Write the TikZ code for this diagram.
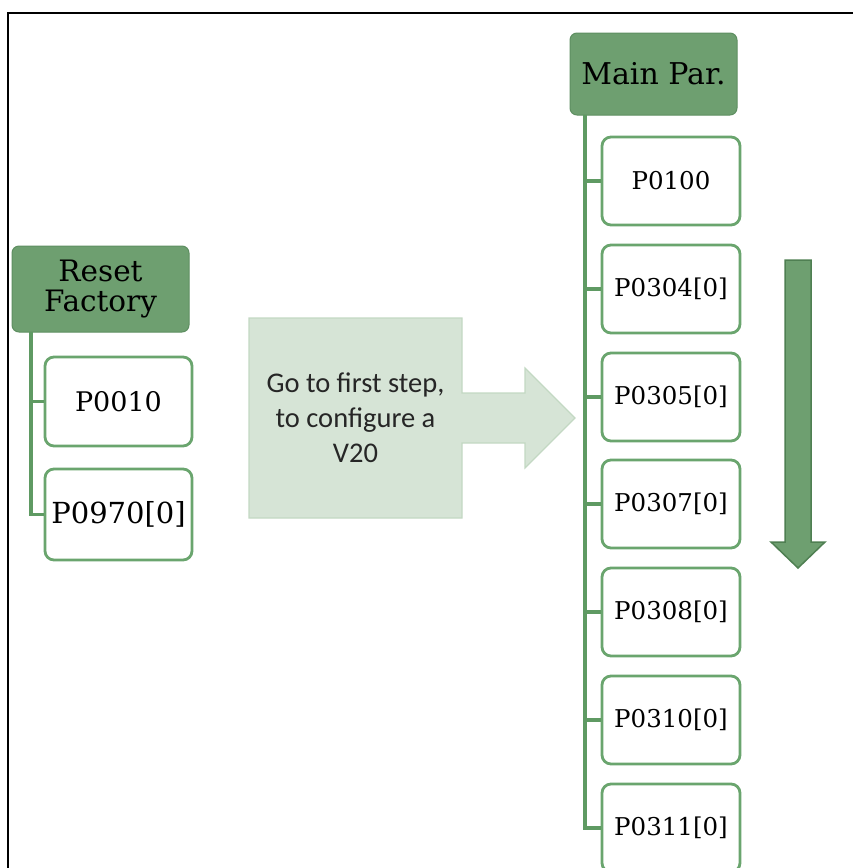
\documentclass[tikz,border=0pt]{standalone}
\usepackage{fontspec}
\setmainfont{DejaVu Serif}
\newfontfamily\calloutfont{Carlito}
\definecolor{hdrfill}{HTML}{6E9F70}
\definecolor{hdrline}{HTML}{5E8F61}
\definecolor{boxline}{HTML}{6AA56E}
\definecolor{connline}{HTML}{5F9A63}
\definecolor{callfill}{HTML}{D6E4D6}
\definecolor{callline}{HTML}{C3D8C3}
\definecolor{darrfill}{HTML}{6E9F70}
\definecolor{darrline}{HTML}{4F7F52}
\tikzset{
  hdr/.style={draw=hdrline, fill=hdrfill, line width=1pt, rounded corners=7pt, align=center, inner sep=0pt},
  pbox/.style={draw=boxline, fill=white, line width=2.8pt, rounded corners=9pt, align=center, inner sep=0pt},
  conn/.style={draw=connline, line width=3.2pt},
  frame/.style={draw=black, line width=2.2pt},
}
\begin{document}
\begin{tikzpicture}[x=1pt,y=-1pt]
\useasboundingbox (0,0) rectangle (853,868);
\begin{scope}
\clip (0,0) rectangle (853,868);
% frame
\draw[frame] (8,868) -- (8,13) -- (853,13);

% left group
\node[hdr, minimum width=177pt, minimum height=86pt, font=\fontsize{29.5}{30}\selectfont] (rf) at (100.5,289) {Reset\\Factory};
\node[pbox, minimum width=147pt, minimum height=89pt, font=\fontsize{27}{30}\selectfont] (p0010) at (118.5,401.5) {P0010};
\node[pbox, minimum width=147pt, minimum height=91pt, font=\fontsize{29}{30}\selectfont] (p0970) at (118.5,514.5) {P0970[0]};
\coordinate (lt) at (31,332);
\draw[conn] (lt) |- (p0970.west);
\draw[conn] (lt |- p0010.west) -- (p0010.west);

% callout arrow
\coordinate (c1) at (249,318);
\coordinate (c2) at (462,318);
\coordinate (c3) at (462,393);
\coordinate (c4) at (525,393);
\coordinate (c5) at (525,368);
\coordinate (c6) at (575,418);
\coordinate (c7) at (525,468);
\coordinate (c8) at (525,443);
\coordinate (c9) at (462,443);
\coordinate (c10) at (462,518);
\coordinate (c11) at (249,518);
\draw[fill=callfill, draw=callline, line width=1.2pt] (c1) -- (c2) -- (c3) -- (c4) -- (c5) -- (c6) -- (c7) -- (c8) -- (c9) -- (c10) -- (c11) -- cycle;
\node[align=center, font=\calloutfont\fontsize{28.5}{35}\selectfont, text=black!85] (go) at (355.5,418) {Go to first step,\\to configure a\\V20};

% right group
\node[hdr, minimum width=167pt, minimum height=82pt, font=\fontsize{30}{32}\selectfont] (mp) at (653.5,74) {Main Par.};
\foreach \nm/\txt/\yy in {b1/P0100/181, b2/P0304[0]/289, b3/P0305[0]/397, b4/P0307[0]/504, b5/P0308[0]/612, b6/P0310[0]/720, b7/P0311[0]/828}{
  \node[pbox, minimum width=138pt, minimum height=88pt, font=\fontsize{24.5}{28}\selectfont] (\nm) at (671,\yy) {\txt};
}
\coordinate (rt) at (585,115);
\draw[conn] (rt) |- (b7.west);
\foreach \nm in {b1,b2,b3,b4,b5,b6}{
  \draw[conn] (rt |- \nm.west) -- (\nm.west);
}

% down arrow
\coordinate (d1) at (785,260);
\coordinate (d2) at (811,260);
\coordinate (d3) at (811,542);
\coordinate (d4) at (825,542);
\coordinate (d5) at (798,568);
\coordinate (d6) at (771,542);
\coordinate (d7) at (785,542);
\draw[fill=darrfill, draw=darrline, line width=1.5pt, line join=miter] (d1) -- (d2) -- (d3) -- (d4) -- (d5) -- (d6) -- (d7) -- cycle;
\end{scope}
\end{tikzpicture}
\end{document}
